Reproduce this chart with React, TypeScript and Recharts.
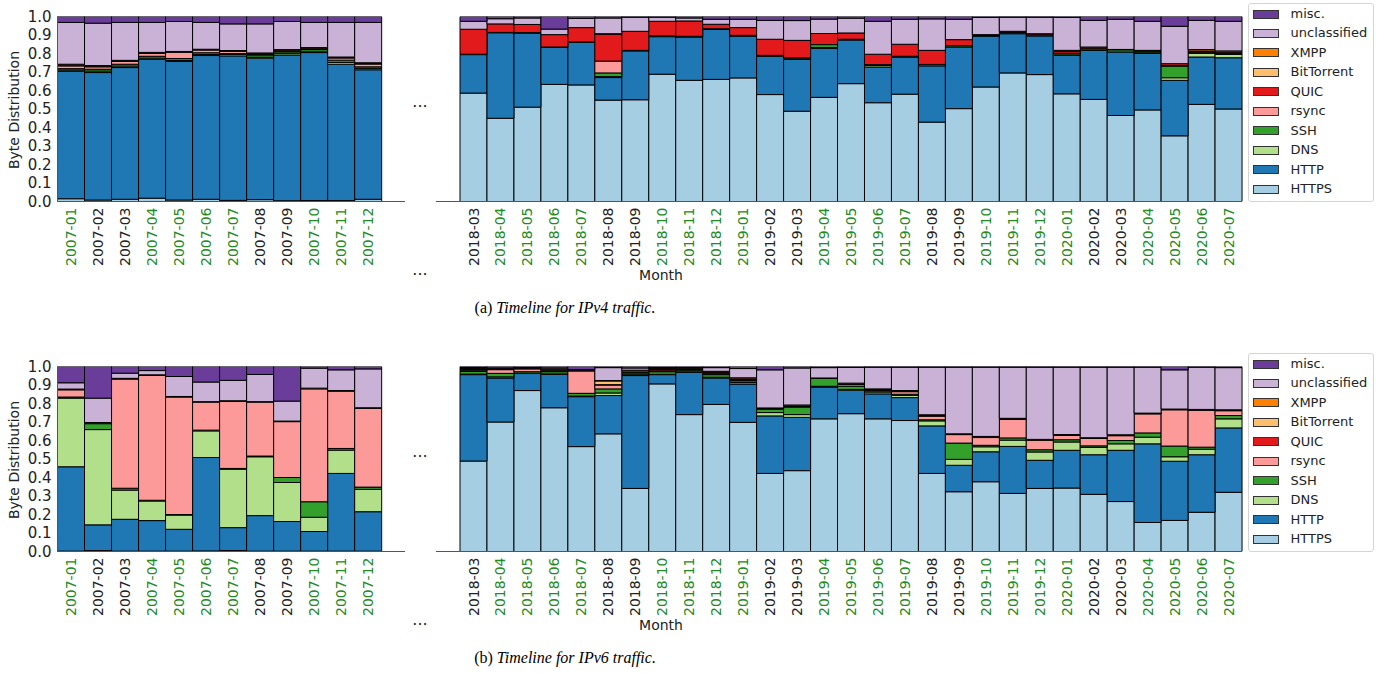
import React from 'react'
import { BarChart, Bar, XAxis, YAxis, Legend } from 'recharts'

// month labels for the two visible periods
const monthsEarly = ['2007-01', '2007-02', '2007-03', '2007-04', '2007-05', '2007-06', '2007-07', '2007-08', '2007-09', '2007-10', '2007-11', '2007-12']
const monthsLate = [
  '2018-03', '2018-04', '2018-05', '2018-06', '2018-07', '2018-08', '2018-09', '2018-10', '2018-11', '2018-12',
  '2019-01', '2019-02', '2019-03', '2019-04', '2019-05', '2019-06', '2019-07', '2019-08', '2019-09', '2019-10', '2019-11', '2019-12',
  '2020-01', '2020-02', '2020-03', '2020-04', '2020-05', '2020-06', '2020-07',
]
const greenMonths = ['01', '04', '05', '06', '07', '10', '11', '12']
const yTicks = [0, 0.1, 0.2, 0.3, 0.4, 0.5, 0.6, 0.7, 0.8, 0.9, 1.0]

// IPv4 shares: first 12 = 2007, then 2018-03 .. 2020-07
const v4Https = [.015, .008, .012, .018, .008, .012, .006, .01, .004, .005, .005, .012,
  .586, .45, .51, .633, .63, .548, .55, .688, .655, .66, .668, .578, .488, .563, .637, .534, .58, .429, .502, .619, .695, .686, .582, .552, .465, .495, .355, .525, .5]
const v4Http = [.69, .689, .712, .751, .749, .777, .781, .765, .787, .8, .737, .7,
  .208, .462, .4, .2, .23, .122, .264, .203, .234, .27, .226, .207, .28, .265, .236, .193, .2, .304, .333, .275, .212, .209, .208, .265, .343, .305, .3, .256, .277]
const v4Dns = [.006, .008, .008, .006, .006, .005, .008, .005, .008, .004, .01, .008,
  0, 0, 0, 0, 0, .005, 0, 0, 0, 0, 0, 0, .002, .004, 0, .008, 0, 0, 0, 0, 0, 0, 0, 0, 0, 0, .014, .02, .018]
const v4Ssh = [.007, .01, .01, .01, .01, .01, .005, .012, .01, .012, .012, .008,
  .002, .002, .003, .002, .002, .02, .003, .004, .004, .004, .004, .005, .006, .016, .004, .003, .005, .008, .007, .004, .006, .006, .008, .008, .012, .008, .063, .006, .006]
const v4Rsync = [.015, .013, .015, .015, .034, .015, .012, .004, .004, .003, .012, .015,
  0, 0, 0, 0, 0, .064, 0, 0, 0, 0, 0, 0, 0, 0, 0, .002, 0, 0, 0, 0, 0, 0, 0, 0, 0, 0, .003, 0, 0]
const v4Quic = [0, 0, 0, 0, 0, 0, 0, 0, 0, 0, 0, 0,
  .135, .046, .044, .067, .078, .146, .103, .079, .083, .024, .042, .087, .095, .06, .034, .056, .065, .076, .033, .004, .007, .006, .012, .004, .002, .004, .01, .006, .006]
const v4Bittorrent = [.004, .003, .003, .003, .002, .002, .002, .002, .002, .002, .002, .003,
  0, 0, 0, 0, 0, .002, 0, 0, 0, 0, 0, 0, 0, 0, 0, 0, 0, 0, 0, 0, 0, 0, 0, 0, 0, 0, 0, 0, 0]
const v4Xmpp = [.005, .004, .003, .003, .002, .002, .002, .005, .006, .006, .003, .004,
  0, 0, 0, 0, 0, 0, 0, 0, 0, 0, 0, 0, 0, 0, 0, 0, 0, 0, 0, 0, 0, 0, .007, .006, 0, .005, 0, .008, .007]
const v4Unclassified = [.226, .229, .205, .162, .162, .145, .144, .157, .152, .136, .187, .218,
  .043, .028, .035, .03, .05, .085, .076, .022, .016, .027, .045, .102, .107, .078, .08, .178, .135, .17, .11, .093, .076, .089, .178, .144, .163, .157, .202, .158, .16]
const v4Misc = [.032, .036, .032, .032, .027, .032, .04, .04, .027, .032, .032, .032,
  .026, .012, .008, .068, .01, .008, .004, .004, .008, .015, .015, .021, .022, .014, .009, .026, .015, .013, .015, .005, .004, .004, .005, .021, .015, .026, .053, .021, .026]

// IPv6 shares
const v6Https = [.002, .005, .002, .002, .002, .003, .005, .002, .002, .002, .002, .002,
  .489, .7, .87, .777, .567, .636, .341, .906, .74, .795, .698, .422, .437, .717, .745, .717, .708, .422, .323, .377, .314, .341, .343, .309, .27, .157, .168, .212, .32]
const v6Http = [.456, .139, .172, .165, .118, .505, .124, .192, .16, .106, .42, .213,
  .467, .238, .092, .18, .27, .207, .61, .05, .229, .143, .207, .311, .288, .172, .127, .135, .124, .257, .143, .162, .254, .152, .204, .214, .277, .425, .32, .311, .348]
const v6Dns = [.371, .515, .158, .106, .077, .144, .316, .318, .211, .077, .126, .121,
  .003, .006, .002, .003, .003, .014, .003, .002, .002, .004, .008, .018, .015, .004, .004, .01, .012, .027, .032, .027, .034, .045, .045, .04, .035, .036, .024, .03, .049]
const v6Ssh = [.006, .032, .01, .004, .003, .004, .004, .004, .027, .084, .009, .012,
  .015, .019, .008, .012, .015, .022, .006, .014, .01, .014, .01, .018, .04, .043, .018, .007, .006, .006, .088, .008, .012, .012, .012, .008, .018, .023, .058, .011, .018]
const v6Rsync = [.039, 0, .59, .675, .635, .152, .362, .292, .302, .61, .31, .426,
  .002, .02, .015, .002, .121, .021, .006, .002, .002, .004, .004, .004, .004, .002, .01, .004, .014, .02, .046, .042, .1, .05, .024, .04, .026, .103, .196, .2, .026]
const v6Quic = [0, 0, 0, 0, 0, 0, 0, 0, 0, 0, 0, 0,
  .004, 0, 0, .002, .002, .002, .002, .008, .002, .004, .002, 0, .002, 0, .002, .002, .002, .002, .002, .002, .002, .002, .002, .002, .002, .002, .002, .002, .002]
const v6Bittorrent = [0, 0, 0, 0, 0, 0, 0, 0, 0, 0, 0, 0,
  .004, .002, 0, .004, 0, .02, .008, .002, .002, .003, .004, 0, 0, 0, 0, 0, 0, .002, 0, 0, 0, 0, 0, 0, 0, 0, 0, 0, 0]
const v6Xmpp = [.004, .006, .004, .003, .003, .002, .004, .002, .003, .004, .003, .003,
  .005, .003, .003, .006, .002, .002, .004, .006, .005, .007, .006, .003, .006, 0, .004, .004, .004, .003, .002, .004, .004, .004, .002, .002, .003, .002, .002, .002, .003]
const v6Unclassified = [.034, .132, .028, .023, .108, .106, .11, .147, .108, .108, .112, .21,
  .006, .004, .004, .006, .003, .07, .012, .004, .002, .02, .05, .206, .2, .056, .085, .117, .126, .257, .36, .374, .276, .39, .364, .381, .365, .248, .212, .228, .228]
const v6Misc = [.088, .171, .036, .022, .054, .084, .075, .043, .187, .009, .018, .013,
  .005, .008, .006, .008, .017, .006, .008, .006, .006, .006, .011, .018, .008, .006, .005, .004, .004, .004, .004, .004, .004, .004, .004, .004, .004, .004, .018, .004, .006]

// stacking order, bottom first (colours from matplotlib's "Paired")
const protocols = [
  { key: 'https', name: 'HTTPS', color: '#a6cee3' },
  { key: 'http', name: 'HTTP', color: '#1f78b4' },
  { key: 'dns', name: 'DNS', color: '#b2df8a' },
  { key: 'ssh', name: 'SSH', color: '#33a02c' },
  { key: 'rsync', name: 'rsync', color: '#fb9a99' },
  { key: 'quic', name: 'QUIC', color: '#e31a1c' },
  { key: 'bittorrent', name: 'BitTorrent', color: '#fdbf6f' },
  { key: 'xmpp', name: 'XMPP', color: '#ff7f00' },
  { key: 'unclassified', name: 'unclassified', color: '#cab2d6' },
  { key: 'misc', name: 'misc.', color: '#6a3d9a' },
]

const v4Series = [v4Https, v4Http, v4Dns, v4Ssh, v4Rsync, v4Quic, v4Bittorrent, v4Xmpp, v4Unclassified, v4Misc]
const v6Series = [v6Https, v6Http, v6Dns, v6Ssh, v6Rsync, v6Quic, v6Bittorrent, v6Xmpp, v6Unclassified, v6Misc]

const buildRows = (months: string[], series: number[][], offset: number) =>
  months.map((month, i) => {
    const row: Record<string, string | number> = { month }
    protocols.forEach((p, k) => {
      row[p.key] = series[k][offset + i]
    })
    return row
  })

const TEXT = '#222'
const FONT = 'DejaVu Sans, sans-serif'

const renderMonthTick = (props: any) => {
  const { x, y, payload } = props
  const label = String(payload.value)
  const fill = greenMonths.includes(label.slice(5)) ? '#228b22' : TEXT
  return (
    <text x={x} y={y} transform={`rotate(-90, ${x}, ${y})`} textAnchor="end" dy="0.36em"
      fontSize={14} fill={fill} fontFamily={FONT}>
      {label}
    </text>
  )
}

const LegendBox = () => (
  <div style={{
    position: 'relative', width: 126, height: 199, boxSizing: 'border-box',
    border: '1px solid #d5d5d5', borderRadius: 3, background: 'rgba(255,255,255,0.85)', fontFamily: FONT,
  }}>
    {[...protocols].reverse().map((p, i) => (
      <div key={p.key} style={{ position: 'absolute', left: 4, top: 2 + i * 19.45, height: 16, display: 'flex', alignItems: 'center' }}>
        <span style={{ display: 'inline-block', width: 26, height: 9, background: p.color, border: '1px solid #333', boxSizing: 'border-box' }} />
        <span style={{ marginLeft: 11.5, fontSize: 13, color: TEXT, lineHeight: '16px', whiteSpace: 'nowrap' }}>{p.name}</span>
      </div>
    ))}
  </div>
)

const stackBars = () =>
  protocols.map((p) => (
    <Bar key={p.key} dataKey={p.key} name={p.name} stackId="s" fill={p.color}
      stroke="#000" strokeWidth={1} isAnimationActive={false} />
  ))

const TimelinePanel = ({ top, series, tag, title }: { top: number; series: number[][]; tag: string; title: string }) => {
  const early = buildRows(monthsEarly, series, 0)
  const late = buildRows(monthsLate, series, monthsEarly.length)
  return (
    <>
      <div style={{ position: 'absolute', left: 0, top }}>
        <BarChart width={405} height={290} data={early} barCategoryGap={0} barGap={0}
          margin={{ top: 16.5, right: 0, bottom: 0, left: 0 }}>
          <XAxis dataKey="month" interval={0} tick={renderMonthTick} tickLine={false} tickSize={0} tickMargin={6}
            height={88.5} padding={{ left: 0, right: 23.3 }} axisLine={{ stroke: '#555' }} />
          <YAxis domain={[0, 1]} ticks={yTicks} interval={0} allowDataOverflow width={57.5} tickLine={false} tickSize={6} tickMargin={0}
            axisLine={{ stroke: '#555' }} tickFormatter={(v: number) => v.toFixed(1)}
            tick={{ fontSize: 15, fill: TEXT, fontFamily: FONT }} />
          {stackBars()}
        </BarChart>
      </div>
      <div style={{ position: 'absolute', left: 420, top }}>
        <BarChart width={962} height={290} data={late} barCategoryGap={0} barGap={0}
          margin={{ top: 16.5, right: 140, bottom: 0, left: 16 }}>
          <XAxis dataKey="month" interval={0} tick={renderMonthTick} tickLine={false} tickSize={0} tickMargin={6}
            height={88.5} padding={{ left: 24, right: 0 }} axisLine={{ stroke: '#555' }} />
          <YAxis hide domain={[0, 1]} allowDataOverflow />
          {stackBars()}
          <Legend layout="horizontal" verticalAlign="middle" align="center" content={() => <LegendBox />}
            wrapperStyle={{ left: 828, top: 3, width: 126, height: 199 }} />
        </BarChart>
      </div>
      <svg width={1382} height={350} style={{ position: 'absolute', left: 0, top, pointerEvents: 'none' }}>
        <text x={18.5} y={110} transform="rotate(-90, 18.5, 110)" textAnchor="middle" fontSize={14} fill={TEXT} fontFamily={FONT}>
          Byte Distribution
        </text>
        <text x={661} y={280} textAnchor="middle" fontSize={14} fill={TEXT} fontFamily={FONT}>Month</text>
        <text x={420} y={107} textAnchor="middle" fontSize={16} fill={TEXT} fontFamily={FONT}>...</text>
        <text x={420} y={275} textAnchor="middle" fontSize={16} fill={TEXT} fontFamily={FONT}>...</text>
        <text x={565} y={313} textAnchor="middle" fontSize={16} fill="#000" fontFamily="Liberation Serif, serif">
          {tag} <tspan fontStyle="italic">{title}</tspan>
        </text>
      </svg>
    </>
  )
}

export default function App() {
  return (
    <div style={{ position: 'absolute', left: 0, top: 0, width: 1382, height: 673, background: '#fff', fontFamily: FONT }}>
      <TimelinePanel top={0} series={v4Series} tag="(a)" title="Timeline for IPv4 traffic." />
      <TimelinePanel top={350} series={v6Series} tag="(b)" title="Timeline for IPv6 traffic." />
    </div>
  )
}
